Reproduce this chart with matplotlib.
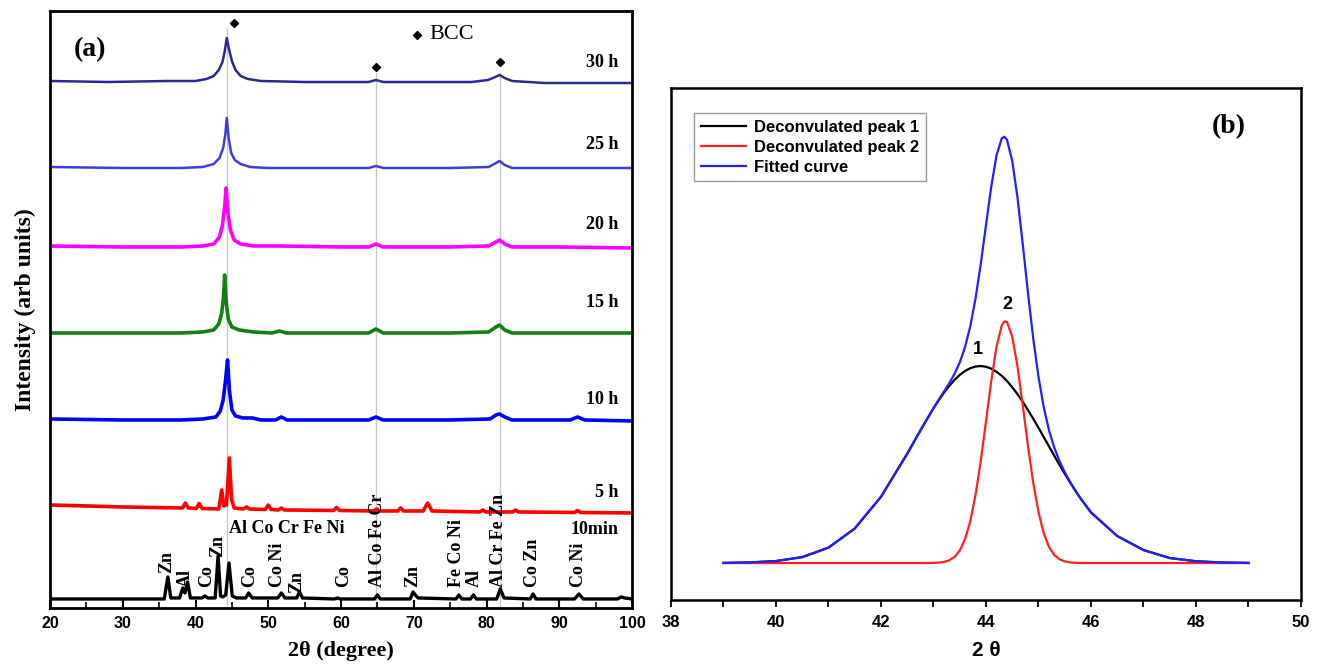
import numpy as np
import matplotlib.pyplot as plt

SERIF = ['Liberation Serif', 'DejaVu Serif']
SANS = ['Liberation Sans', 'DejaVu Sans']

###############################################################################
# (a) XRD patterns vs milling time: 2theta knots and counts above each baseline
###############################################################################
tt_30h = [20, 28, 36, 40, 41.5, 42.5, 43.2, 43.7, 44.0, 44.3, 44.6, 45.0, 45.5, 46.2, 47.2, 49,
          55, 62, 63.8, 64.8, 65.8, 70, 78, 80.2, 81.2, 81.8, 82.5, 83.5, 88, 95, 100]
int_30h = [1, 0, 1, 1, 3, 6, 12, 20, 30, 44, 33, 21, 12, 6, 3, 1,
           0, 0, 0, 2, 0, 0, 0, 2, 5, 7, 4, 1, -1, -1, -1]

tt_25h = [20, 30, 38, 41, 42.5, 43.3, 43.8, 44.1, 44.3, 44.55, 44.9, 45.4, 46.2, 47.5, 50,
          60, 63.8, 64.8, 65.8, 75, 80.3, 81.3, 81.8, 82.5, 83.5, 90, 100]
int_25h = [1, 0, 0, 1, 4, 10, 20, 34, 50, 30, 15, 8, 4, 1, 0,
           0, 0, 2, 0, 0, 1, 5, 7, 3, 0, 0, 0]

tt_20h = [20, 30, 38, 41, 42.5, 43.3, 43.7, 44.0, 44.2, 44.45, 44.8, 45.3, 46.2, 48, 51.5,
          60, 63.8, 64.8, 65.8, 75, 80.3, 81.3, 81.8, 82.5, 83.5, 90, 100]
int_20h = [1, 0, 0, 1, 3, 10, 22, 40, 59, 34, 17, 7, 3, 1, 1,
           0, 0, 3, 0, 0, 1, 5, 7, 3, 0, 0, -1]

tt_15h = [20, 30, 38, 41, 42.5, 43.2, 43.6, 43.85, 44.0, 44.2, 44.5, 45.0, 46, 48, 50.5, 51.5,
          52.5, 60, 63.8, 64.8, 65.8, 75, 80.3, 81.3, 81.8, 82.5, 83.5, 90, 100]
int_15h = [0, 0, 0, 1, 3, 9, 20, 36, 58, 32, 14, 6, 3, 1, 0, 2,
           0, 0, 0, 4, 0, 0, 1, 6, 8, 3, 0, 0, 0]

tt_10h = [20, 30, 38, 41, 42.8, 43.4, 43.8, 44.1, 44.4, 44.65, 45.0, 45.5, 46.5, 47.8, 49, 51.0,
          51.8, 52.6, 60, 63.8, 64.8, 65.8, 75, 80.5, 81.3, 81.8, 82.5, 83.5, 91.5, 92.5, 93.5, 100]
int_10h = [1, 0, 0, 1, 3, 9, 20, 38, 60, 30, 10, 4, 2, 2, 0, 0,
           3, 0, 0, 0, 3, 0, 0, 1, 5, 6, 3, 0, 0, 3, 0, -1]

tt_5h = [20, 30, 38.2, 38.6, 39.0, 40.1, 40.5, 40.9, 43.2, 43.6, 43.9, 44.25, 44.65, 44.95, 45.3,
         46.6, 47.0, 47.4, 49.6, 50.0, 50.4, 51.4, 51.8, 52.2, 59.0, 59.4, 59.8, 64.5, 64.9, 65.3,
         67.8, 68.2, 68.6, 71.3, 71.9, 72.5, 79.1, 79.5, 79.9, 83.6, 84.0, 84.4, 92.1, 92.5, 92.9, 100]
int_5h = [8, 6, 5, 10, 5, 4.5, 9.5, 4.5, 4, 23, 7, 8, 55, 14, 5,
          4, 6, 4, 3.5, 8, 3.5, 3, 5, 3, 2.5, 5.5, 2.5, 2, 4, 2,
          2, 5, 2, 2, 10, 2, 1, 3, 1, 1, 3, 1, 0.5, 2.5, 0.5, 0]

tt_10min = [20, 25, 30, 35.7, 36.2, 36.6, 37.8, 38.25, 38.55, 38.9, 39.3, 40.9, 41.3, 41.7,
            42.7, 43.1, 43.45, 43.75, 44.15, 44.6, 45.05, 45.6, 46.9, 47.3, 47.8, 51.3, 51.8,
            52.3, 53.9, 54.3, 54.7, 59.1, 59.5, 59.9, 64.6, 65.0, 65.4, 69.5, 69.9, 70.2, 70.6,
            75.8, 76.2, 76.6, 77.8, 78.2, 78.6, 81.4, 81.9, 82.4, 86.0, 86.4, 86.8, 92.1, 92.7,
            93.3, 98.0, 98.5, 99.0, 100]
int_10min = [0, 0, 0, 0, 22, 1, 1, 11, 6, 17, 1, 1, 3, 1,
             1, 43, 3, 2, 4, 36, 3, 1, 1, 6, 1, 1, 6,
             1, 1, 7, 1, 0, 1, 0, 0, 4, 0, 0, 7, 4, 1,
             0, 4, 0, 0, 4, 0, 0, 10, 1, 0, 5, 0, 0, 5,
             0, 0, 2, 1, 0]

time_labels = ['30 h', '25 h', '20 h', '15 h', '10 h', '5 h', '10min']

# BCC reflections and the phases indexed on the 10 min pattern
bcc_peaks = [44.3, 64.8, 81.8]
phase_pos = [36.0, 38.55, 41.5, 43.1, 47.5, 51.3, 53.95, 60.3, 65.0, 69.9, 75.9, 78.3, 81.7,
             86.3, 92.6]
phase_names = ['Zn', 'Al', 'Co', 'Zn', 'Co', 'Co Ni', 'Zn', 'Co', 'Al Co Fe Cr', 'Zn',
               'Fe Co Ni', 'Al', 'Al Cr Fe Zn', 'Co Zn', 'Co Ni']

###############################################################################
# (b) deconvolution of the (110) reflection
###############################################################################
tt_fit = [39.0, 39.5, 40.0, 40.5, 41.0, 41.5, 42.0, 42.5, 42.8,
          43.0, 43.1, 43.2, 43.3, 43.4, 43.5, 43.6, 43.7, 43.8, 43.9, 44.0, 44.1, 44.2, 44.3,
          44.35,
          44.4, 44.5, 44.6, 44.7, 44.8, 44.9, 45.0, 45.1, 45.2, 45.3, 45.4, 45.5, 45.6, 45.7, 45.8,
          46.0, 46.5, 47.0, 47.5, 48.0, 48.5, 49.0]
peak1 = [0.1, 0.6, 2.0, 5.9, 15.4, 34.5, 66.2, 109.3, 137.1,
         154.7, 162.8, 170.4, 177.1, 183.1, 188.1, 192.0, 194.8, 196.5, 197.0, 196.3, 194.4,
         191.3, 187.2,
         184.7,
         182.0, 175.8, 168.9, 161.3, 153.0, 144.3, 135.3, 126.0, 116.7, 107.4, 98.2, 89.3, 80.7,
         72.5, 64.7,
         50.6, 27.0, 13.0, 5.0, 1.8, 0.5, 0.1]
peak2 = [0, 0, 0, 0, 0, 0, 0, 0, 0,
         0.2, 0.4, 1.1, 2.7, 6.0, 12.4, 23.7, 41.6, 67.7, 101.8, 141.5, 181.8, 216.1, 237.4,
         241.6,
         241.2, 226.5, 196.7, 157.9, 117.2, 80.4, 51.0, 29.9, 16.2, 8.1, 3.8, 1.6, 0.6, 0.2, 0.1,
         0, 0, 0, 0, 0, 0, 0]


def plot_patterns(ax):
    patterns = [(tt_30h, int_30h), (tt_25h, int_25h), (tt_20h, int_20h), (tt_15h, int_15h),
                (tt_10h, int_10h), (tt_5h, int_5h), (tt_10min, int_10min)]
    offsets = [526, 440, 361, 275, 188, 95, 9]
    colors = ['#2a2a8e', '#3c3ce2', '#ff00ff', '#128012', '#0000ff', '#ff0000', '#000000']
    widths = [1.8, 1.8, 2.6, 2.6, 2.6, 2.6, 2.4]
    label_y = [546, 463, 383, 305, 208, 115, 78]

    # reference lines through the bcc reflections
    line_tops = [580, 535, 535]
    for pos, top in zip(bcc_peaks, line_tops):
        ax.plot([pos, pos], [0, top], color='#c8c8c8', lw=1.0, zorder=1)

    for (tt, counts), off, color, lw in zip(patterns, offsets, colors, widths):
        ax.plot(tt, np.array(counts) + off, color=color, lw=lw, zorder=2)

    for lab, y in zip(time_labels, label_y):
        ax.text(98.1, y, lab, ha='right', va='center', family=SERIF,
                fontweight='bold', fontsize=13)

    for pos, name in zip(phase_pos, phase_names):
        y = 21
        if name == 'Zn' and pos < 37:
            y = 35
        elif name == 'Zn' and pos < 44:
            y = 51
        elif name == 'Zn' and pos < 55:
            y = 15
        ax.text(pos, y, name, rotation=90, ha='center', va='bottom', family=SERIF,
                fontweight='bold', fontsize=13)
    ax.text(44.6, 79, 'Al Co Cr Fe Ni', ha='left', va='center', family=SERIF,
            fontweight='bold', fontsize=13)

    # bcc markers and key
    ax.plot([45.3, 64.8, 81.8], [585, 541, 546], 'kD', ms=4.5)
    ax.plot([70.45], [573], 'kD', ms=4.5)
    ax.text(72.1, 574, 'BCC', ha='left', va='center', family=SERIF, fontsize=16)
    ax.text(23.2, 558, '(a)', ha='left', va='center', family=SERIF,
            fontweight='bold', fontsize=20)

    ax.set_xlim(20, 100)
    ax.set_ylim(0, 597)
    ax.set_xticks(np.arange(20, 101, 10))
    ax.set_xticks(np.arange(25, 100, 10), minor=True)
    ax.set_yticks([])
    ax.tick_params(axis='x', which='major', direction='in', length=6, width=1.5, pad=6)
    ax.tick_params(axis='x', which='minor', direction='in', length=4, width=1.2)
    for t in ax.get_xticklabels():
        t.set_family(SANS)
        t.set_fontweight('bold')
        t.set_fontsize(11.5)
    for s in ax.spines.values():
        s.set_linewidth(2.0)
    ax.set_xlabel('2θ (degree)', family=SERIF, fontweight='bold', fontsize=16, labelpad=7)
    ax.set_ylabel('Intensity (arb units)', family=SERIF, fontweight='bold', fontsize=17,
                  labelpad=10)


def plot_deconvolution(ax):
    fitted = np.array(peak1) + np.array(peak2)
    ax.plot(tt_fit, peak1, color='black', lw=1.6, label='Deconvulated peak 1')
    ax.plot(tt_fit, peak2, color='#ff2020', lw=1.6, label='Deconvulated peak 2')
    ax.plot(tt_fit, fitted, color='#2020ff', lw=1.6, label='Fitted curve')

    ax.text(43.85, 205, '1', ha='center', va='bottom', family=SANS, fontweight='bold',
            fontsize=13)
    ax.text(44.4, 250, '2', ha='center', va='bottom', family=SANS, fontweight='bold',
            fontsize=13)
    ax.text(0.885, 0.925, '(b)', transform=ax.transAxes, ha='center', va='center',
            family=SERIF, fontweight='bold', fontsize=20)

    leg = ax.legend(loc='upper left', bbox_to_anchor=(0.0365, 0.951), borderaxespad=0,
                    fancybox=False, edgecolor='#808080', handlelength=2.7,
                    labelspacing=0.3, borderpad=0.4, handletextpad=0.5,
                    prop={'family': SANS, 'weight': 'bold', 'size': 12})
    leg.get_frame().set_linewidth(1.0)

    ax.set_xlim(38, 50)
    ax.set_ylim(-37, 475)
    ax.set_xticks(np.arange(38, 51, 2))
    ax.set_xticks(np.arange(39, 50, 2), minor=True)
    ax.set_yticks([])
    ax.tick_params(axis='x', which='both', direction='out', length=5, width=1.3, pad=6)
    for t in ax.get_xticklabels():
        t.set_family(SANS)
        t.set_fontweight('bold')
        t.set_fontsize(12)
    for s in ax.spines.values():
        s.set_linewidth(1.8)
    ax.set_xlabel('2 θ', family=SANS, fontweight='bold', fontsize=15, labelpad=8)


if __name__ == '__main__':
    fig = plt.figure(figsize=(13.2, 6.67), dpi=100)
    ax_a = fig.add_axes([0.0379, 0.0885, 0.4409, 0.895])
    ax_b = fig.add_axes([0.5083, 0.1004, 0.4773, 0.7676])
    plot_patterns(ax_a)
    plot_deconvolution(ax_b)
    fig.savefig('out.png', dpi=100)
